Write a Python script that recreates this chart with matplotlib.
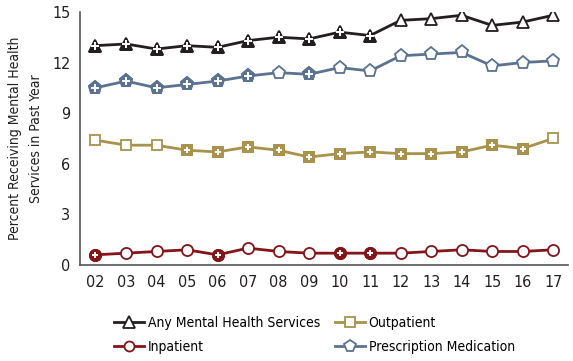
import matplotlib.pyplot as plt
from matplotlib import font_manager

years = ["02", "03", "04", "05", "06", "07", "08", "09", "10", "11", "12", "13", "14", "15", "16", "17"]

any_mh = [13.0, 13.1, 12.8, 13.0, 12.9, 13.3, 13.5, 13.4, 13.8, 13.6, 14.5, 14.6, 14.8, 14.2, 14.4, 14.8]
outpatient = [7.4, 7.1, 7.1, 6.8, 6.7, 7.0, 6.8, 6.4, 6.6, 6.7, 6.6, 6.6, 6.7, 7.1, 6.9, 7.5]
inpatient = [0.6, 0.7, 0.8, 0.9, 0.6, 1.0, 0.8, 0.7, 0.7, 0.7, 0.7, 0.8, 0.9, 0.8, 0.8, 0.9]
prescription = [10.5, 10.9, 10.5, 10.7, 10.9, 11.2, 11.4, 11.3, 11.7, 11.5, 12.4, 12.5, 12.6, 11.8, 12.0, 12.1]

# 1 = filled marker with a white plus
any_sig = [1, 1, 1, 1, 1, 1, 1, 1, 1, 1, 0, 0, 0, 0, 0, 0]
out_sig = [0, 0, 0, 1, 1, 1, 1, 1, 1, 1, 1, 1, 1, 1, 1, 0]
inp_sig = [1, 0, 0, 0, 1, 0, 0, 0, 1, 1, 0, 0, 0, 0, 0, 0]
rx_sig = [1, 1, 1, 1, 1, 1, 0, 1, 0, 0, 0, 0, 0, 0, 0, 0]

names = {f.name for f in font_manager.fontManager.ttflist}
cond = [f for f in font_manager.fontManager.ttflist if "Condensed" in f.fname or f.stretch == "condensed"]
if "Liberation Sans Narrow" in names:
    plt.rcParams["font.family"] = "Liberation Sans Narrow"
elif cond:
    plt.rcParams["font.family"] = cond[0].name
    plt.rcParams["font.stretch"] = "condensed"
else:
    plt.rcParams["font.family"] = "Liberation Sans"

series = [
    ("Any Mental Health Services", any_mh, any_sig, "#231f20", "^", 9),
    ("Outpatient", outpatient, out_sig, "#a8924c", "s", 7.5),
    ("Inpatient", inpatient, inp_sig, "#841417", "o", 8),
    ("Prescription Medication", prescription, rx_sig, "#5b7290", "p", 9.5),
]

fig = plt.figure(figsize=(5.73, 3.61), dpi=100)
ax = fig.add_axes([0.14, 0.266, 0.852, 0.701])
x = list(range(len(years)))

handles = {}
for name, vals, sig, color, mk, ms in series:
    (h,) = ax.plot(x, vals, color=color, lw=2, marker=mk, ms=ms,
                   mfc="white", mec=color, mew=1.3, label=name, zorder=2)
    handles[name] = h
    xs = [xi for xi, s in zip(x, sig) if s]
    ys = [v for v, s in zip(vals, sig) if s]
    ax.plot(xs, ys, ls="none", marker=mk, ms=ms, mfc=color, mec=color, mew=1.3, zorder=3)
    ax.plot(xs, ys, ls="none", marker="+", ms=ms * 0.6, mec="white", mew=1.4, zorder=4)

ax.set_xlim(-0.5, 15.5)
ax.set_ylim(0, 15)
ax.set_yticks([0, 3, 6, 9, 12, 15])
ax.set_xticks(x)
ax.set_xticklabels(years)
ax.tick_params(length=0, labelsize=11.5, colors="#231f20", pad=7)
for s in ["top", "right"]:
    ax.spines[s].set_visible(False)
for s in ["left", "bottom"]:
    ax.spines[s].set_color("#555555")
    ax.spines[s].set_linewidth(1.2)
ax.set_ylabel("Percent Receiving Mental Health\nServices in Past Year", fontsize=10,
              labelpad=7, color="#231f20", linespacing=1.55)

order = ["Any Mental Health Services", "Inpatient", "Outpatient", "Prescription Medication"]
fig.legend([handles[n] for n in order], order, ncol=2, frameon=False,
           loc="lower left", bbox_to_anchor=(0.178, -0.016), fontsize=10,
           handlelength=2.1, handletextpad=0.3, columnspacing=1.1, labelspacing=0.75,
           markerscale=0.9)

fig.savefig("out.png", dpi=100)
